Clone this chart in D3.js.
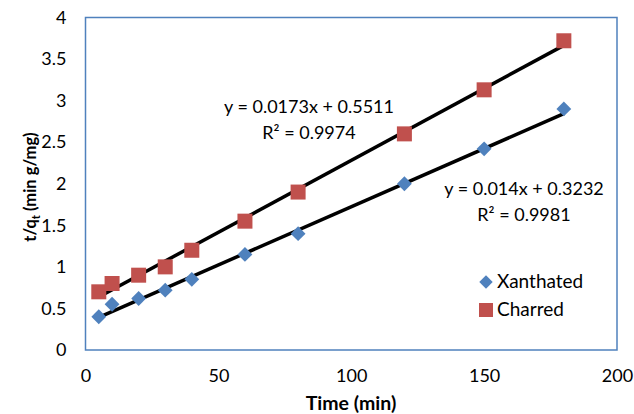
<!DOCTYPE html>
<html>
<head>
<meta charset="utf-8">
<script src="https://cdn.jsdelivr.net/npm/d3@7"></script>
<style>
  body { margin: 0; background: #fff; }
  svg { font-family: Lato, "Open Sans", sans-serif; }
</style>
</head>
<body>
<svg width="634" height="414"></svg>
<script>
// Sample data
const times = [5, 10, 20, 30, 40, 60, 80, 120, 150, 180];
const xanthated = [0.4, 0.55, 0.62, 0.72, 0.85, 1.15, 1.4, 2.0, 2.42, 2.9];
const charred = [0.7, 0.8, 0.9, 1.0, 1.2, 1.55, 1.9, 2.6, 3.13, 3.72];
const xTicks = [0, 50, 100, 150, 200];
const yTicks = [0, 0.5, 1, 1.5, 2, 2.5, 3, 3.5, 4];
// trendline fits shown on the chart: [slope, intercept]
const fitX = [0.014, 0.3232];
const fitC = [0.0173, 0.5511];

const svg = d3.select('svg');
const m = { left: 85.5, right: 617, top: 17.5, bottom: 350 };

const x = d3.scaleLinear().domain([0, 200]).range([m.left, m.right]);
const y = d3.scaleLinear().domain([0, 4]).range([m.bottom, m.top]);

// plot frame
svg.append('rect')
  .attr('x', m.left).attr('y', m.top)
  .attr('width', m.right - m.left).attr('height', m.bottom - m.top)
  .attr('fill', 'none').attr('stroke', '#4f81bd').attr('stroke-width', 1.5);

// axes (labels only)
const yAxis = svg.append('g')
  .attr('transform', `translate(${m.left},0)`)
  .call(d3.axisLeft(y).tickValues(yTicks).tickSize(0).tickPadding(19).tickFormat(d3.format('')));
const xAxis = svg.append('g')
  .attr('transform', `translate(0,${m.bottom})`)
  .call(d3.axisBottom(x).tickValues(xTicks).tickSize(0).tickPadding(19));
[yAxis, xAxis].forEach(a => {
  a.select('.domain').remove();
  a.selectAll('text').attr('font-size', 18).attr('fill', '#000')
    .attr('font-family', 'Lato, "Open Sans", sans-serif');
});

// axis titles
svg.append('text')
  .attr('x', 351).attr('y', 410)
  .attr('text-anchor', 'middle').attr('font-size', 19.5).attr('font-weight', 'bold')
  .text('Time (min)');

const yt = svg.append('text')
  .attr('transform', 'translate(36,187) rotate(-90)')
  .attr('text-anchor', 'middle').attr('font-size', 16.5).attr('font-weight', 'bold');
yt.append('tspan').text('t/q');
yt.append('tspan').attr('dy', 4).attr('font-size', 11).text('t');
yt.append('tspan').attr('dy', -4).text(' (min g/mg)');

// trendlines
const trend = (fit) => [times[0], times[times.length - 1]].map(t => [x(t), y(fit[0] * t + fit[1])]);
[fitC, fitX].forEach(f => {
  svg.append('path')
    .attr('d', d3.line()(trend(f)))
    .attr('stroke', '#000').attr('stroke-width', 3.5).attr('fill', 'none');
});

// markers
const diamond = d3.symbol().type(d3.symbolSquare).size(110);
svg.append('g').selectAll('path')
  .data(times.map((t, i) => [t, xanthated[i]]))
  .join('path')
  .attr('d', diamond)
  .attr('transform', d => `translate(${x(d[0])},${y(d[1])}) rotate(45)`)
  .attr('fill', '#4f81bd');

svg.append('g').selectAll('rect')
  .data(times.map((t, i) => [t, charred[i]]))
  .join('rect')
  .attr('x', d => x(d[0]) - 7.5).attr('y', d => y(d[1]) - 7.5)
  .attr('width', 15).attr('height', 15)
  .attr('fill', '#c0504d');

// equations
const eq = [
  { cx: 309, y1: 113, t1: 'y = 0.0173x + 0.5511', t2: 'R² = 0.9974' },
  { cx: 524, y1: 195, t1: 'y = 0.014x + 0.3232', t2: 'R² = 0.9981' }
];
eq.forEach(e => {
  svg.append('text').attr('x', e.cx).attr('y', e.y1)
    .attr('text-anchor', 'middle').attr('font-size', 18).text(e.t1);
  svg.append('text').attr('x', e.cx).attr('y', e.y1 + 26)
    .attr('text-anchor', 'middle').attr('font-size', 18).text(e.t2);
});

// legend
const lg = svg.append('g');
lg.append('path').attr('d', d3.symbol().type(d3.symbolSquare).size(90))
  .attr('transform', 'translate(486,282) rotate(45)').attr('fill', '#4f81bd');
lg.append('rect').attr('x', 479).attr('y', 303).attr('width', 14).attr('height', 14).attr('fill', '#c0504d');
lg.append('text').attr('x', 497).attr('y', 288).attr('font-size', 19).text('Xanthated');
lg.append('text').attr('x', 497).attr('y', 316).attr('font-size', 19).text('Charred');
</script>
</body>
</html>
